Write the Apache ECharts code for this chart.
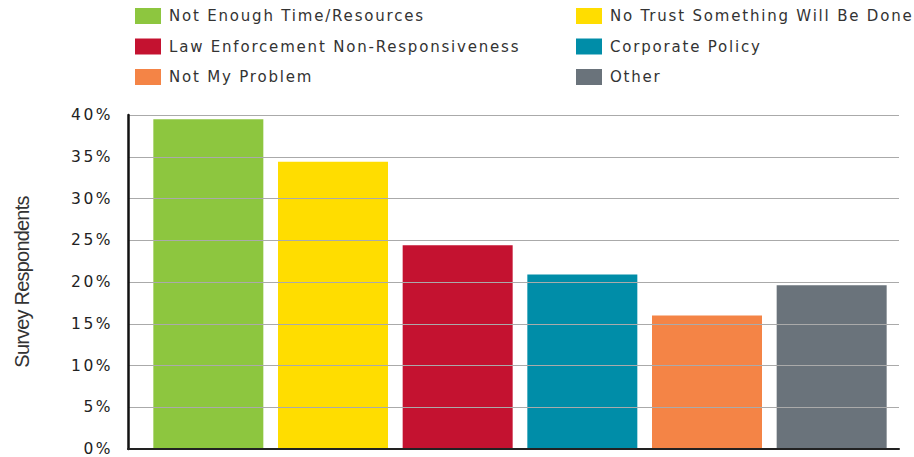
<!DOCTYPE html>
<html>
<head>
<meta charset="utf-8">
<script src="https://cdn.jsdelivr.net/npm/echarts@6/dist/echarts.min.js"></script>
<style>
  html, body { margin: 0; padding: 0; background: #fff; }
  #chart { width: 914px; height: 457px; }
  /* wide tracking for legend labels (15px) and percent ticks (15.5px),
     tighter tracking for the rotated axis title (20px) */
  #chart text[style*="15px"] { letter-spacing: 1.8px; }
  #chart text[style*="15.5px"] { letter-spacing: 2.5px; }
  #chart text[style*="20px"] { letter-spacing: -0.8px; }
</style>
</head>
<body>
<div id="chart"></div>
<script>
// Reasons respondents gave, share of survey respondents (%)
const categories = [
  'Not Enough Time/Resources',
  'No Trust Something Will Be Done',
  'Law Enforcement Non-Responsiveness',
  'Corporate Policy',
  'Not My Problem',
  'Other'
];
const values = [39.5, 34.4, 24.4, 20.9, 16.0, 19.6];
const colors = ['#8DC63F', '#FFDD00', '#C41230', '#008DA8', '#F48446', '#6A737B'];
const yMin = 0, yMax = 40, yStep = 5;
const axisTitle = 'Survey Respondents';

// legend is laid out in two columns, read row by row
const legendLeft = [categories[0], categories[2], categories[4]];
const legendRight = [categories[1], categories[3], categories[5]];

const chart = echarts.init(document.getElementById('chart'), null, { renderer: 'svg' });

const legendBase = {
  orient: 'vertical',
  top: 3,
  icon: 'rect',
  itemWidth: 26,
  itemHeight: 16,
  itemGap: 14.5,
  selectedMode: false,
  textStyle: {
    fontFamily: 'DejaVu Sans',
    fontSize: 15,
    color: '#333',
    lineHeight: 16,
    padding: [0, 0, 0, 3]
  }
};

const series = categories.map((name, i) => ({
  name,
  type: 'bar',
  xAxisIndex: 1,
  yAxisIndex: 1,
  data: values.map((v, j) => (j === i ? v : '-')),
  barWidth: 110,
  barGap: '-100%',
  itemStyle: { color: colors[i] },
  emphasis: { disabled: true }
}));

chart.setOption({
  animation: false,
  legend: [
    Object.assign({}, legendBase, { left: 130, data: legendLeft }),
    Object.assign({}, legendBase, { left: 571, data: legendRight })
  ],
  grid: [
    // frame: axis lines, ticks and gridlines
    { left: 128, right: 15, top: 115, bottom: 8, containLabel: false },
    // bar area, slightly inset from the frame
    { left: 146, right: 20, top: 115, bottom: 8, containLabel: false }
  ],
  xAxis: [
    {
      type: 'category', gridIndex: 0, data: categories, z: 5,
      axisLine: { show: true, lineStyle: { color: '#222', width: 2 } },
      axisTick: { show: false }, axisLabel: { show: false }, splitLine: { show: false }
    },
    {
      type: 'category', gridIndex: 1, data: categories, show: false
    }
  ],
  yAxis: [
    {
      type: 'value', gridIndex: 0, min: yMin, max: yMax, interval: yStep, z: 5,
      name: axisTitle,
      nameLocation: 'middle',
      nameRotate: 90,
      nameGap: 96,
      nameTextStyle: { fontFamily: 'Liberation Sans', fontSize: 20, color: '#333' },
      axisLine: { show: true, lineStyle: { color: '#111', width: 2.5 } },
      axisTick: { show: false },
      axisLabel: {
        formatter: '{value}%',
        margin: 15,
        fontFamily: 'DejaVu Sans',
        fontSize: 15.5,
        color: '#222'
      },
      splitLine: { show: true, lineStyle: { color: '#aaaaaa', width: 1.2 } }
    },
    {
      type: 'value', gridIndex: 1, min: yMin, max: yMax, interval: yStep, show: false,
      splitLine: { show: false }
    }
  ],
  series
});
</script>
</body>
</html>
